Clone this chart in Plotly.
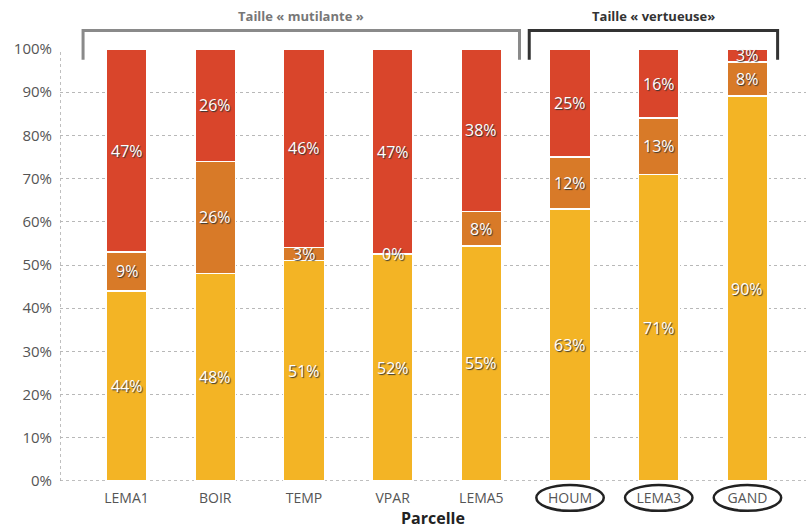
import plotly.graph_objects as go

categories = ["LEMA1", "BOIR", "TEMP", "VPAR", "LEMA5", "HOUM", "LEMA3", "GAND"]
yellow_vals = [44, 48, 51, 52, 55, 63, 71, 90]
orange_vals = [9, 26, 3, 0, 8, 12, 13, 8]
red_vals = [47, 26, 46, 47, 38, 25, 16, 3]
circled = ["HOUM", "LEMA3", "GAND"]
y_ticks = [0, 10, 20, 30, 40, 50, 60, 70, 80, 90, 100]

series = [
    (yellow_vals, "#F3B425"),
    (orange_vals, "#D87A28"),
    (red_vals, "#D9452B"),
]

totals = [a + b + c for a, b, c in zip(yellow_vals, orange_vals, red_vals)]

fig = go.Figure()
base = [0.0] * len(categories)
annotations = []
for vals, color in series:
    norm = [v / t * 100 for v, t in zip(vals, totals)]
    fig.add_trace(go.Bar(
        x=categories, y=norm, marker=dict(color=color, line=dict(color="white", width=1.5)),
        width=0.46, showlegend=False, hoverinfo="skip",
    ))
    for cat, b, h, v in zip(categories, base, norm, vals):
        annotations.append(dict(
            x=cat, y=b + h / 2, xref="x", yref="y", text=f"{v}%", showarrow=False,
            font=dict(family="Open Sans", size=16, color="white", shadow="1px 1px 1px #333"),
        ))
    base = [b + h for b, h in zip(base, norm)]

shapes = []
# brackets
for x0, x1, col, w in [(-0.49, 4.43, "#8a8a8a", 3), (4.54, 7.34, "#333333", 3)]:
    shapes.append(dict(type="path", xref="x", yref="paper",
                       path=f"M {x0},{0.975} L {x0},{1.043} L {x1},{1.043} L {x1},{0.975}",
                       line=dict(color=col, width=w)))
annotations.append(dict(x=1.97, y=1.052, xref="x", yref="paper", text="<b>Taille « mutilante »</b>",
                        showarrow=False, yanchor="bottom",
                        font=dict(family="Open Sans", size=13, color="#777777")))
annotations.append(dict(x=5.94, y=1.052, xref="x", yref="paper", text="<b>Taille « vertueuse»</b>",
                        showarrow=False, yanchor="bottom",
                        font=dict(family="Open Sans", size=13, color="#333333")))
# circles around selected labels
for cat in circled:
    i = categories.index(cat)
    shapes.append(dict(type="circle", xref="x", yref="paper",
                       x0=i - 0.38, x1=i + 0.38, y0=-0.069, y1=-0.009,
                       line=dict(color="#222222", width=2.5)))

fig.update_layout(
    width=806, height=531,
    margin=dict(l=60, r=0, t=49, b=50),
    plot_bgcolor="white", paper_bgcolor="white",
    barmode="stack", bargap=0.5,
    shapes=shapes, annotations=annotations,
    font=dict(family="Open Sans", color="#555555"),
)
fig.update_xaxes(
    range=[-0.75, 7.66], showgrid=False, showline=False, zeroline=False,
    tickfont=dict(size=14, color="#555555"), ticks="", ticklabelstandoff=7,
    title=dict(text="<b>Parcelle</b>", font=dict(size=16, color="#222222"), standoff=4),
)
fig.update_yaxes(
    range=[0, 100], tickvals=y_ticks, ticktext=[f"{t}%" for t in y_ticks],
    tickfont=dict(size=15, color="#555555"), ticks="",
    showgrid=True, gridcolor="#b8b8b8", griddash="dot", gridwidth=1,
    showline=False, zeroline=False,
    ticklabelstandoff=7,
)
# dotted baseline and axis line
fig.add_hline(y=0, line=dict(color="#aaaaaa", width=1.5, dash="dot"), layer="below")
fig.add_vline(x=-0.75, line=dict(color="#aaaaaa", width=1.5, dash="dot"), layer="below")

fig.write_html("out.html")
